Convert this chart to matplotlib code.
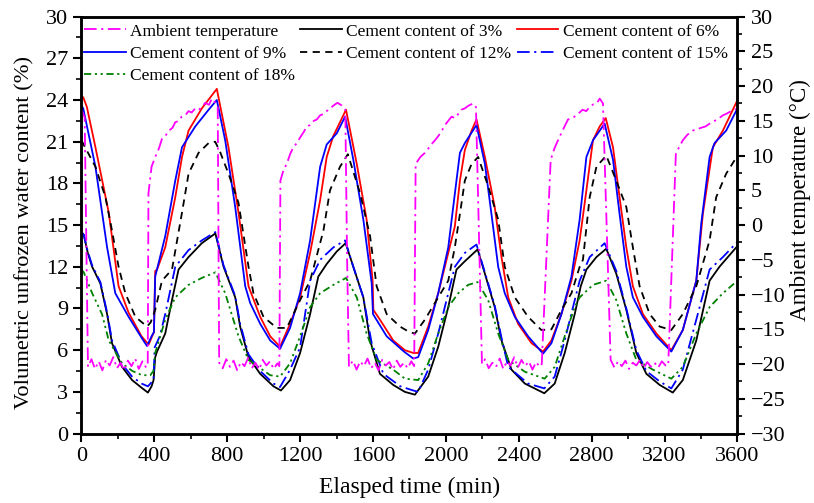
import matplotlib
matplotlib.use("Agg")
import matplotlib.pyplot as plt
from matplotlib.ticker import MultipleLocator

plt.rcParams['font.family'] = ['Liberation Serif', 'DejaVu Serif']

# --- data (time in min) ---
t_c3 = [0, 13, 35, 59, 104, 141, 168, 223, 278, 330, 365, 385, 396, 405, 415, 460, 497, 533, 588, 661, 735,
        780, 844, 871, 917, 981, 1054, 1095, 1145, 1200, 1255, 1300, 1346, 1401, 1450, 1492, 1547, 1584, 1638,
        1711, 1775, 1830, 1903, 1958, 2013, 2058, 2104, 2174, 2214, 2268, 2305, 2360, 2433, 2540, 2597, 2652,
        2707, 2740, 2771, 2826, 2880, 2935, 2990, 3045, 3100, 3173, 3245, 3300, 3374, 3447, 3501, 3600]
v_c3 = [14.5, 14.3, 13.0, 12.0, 10.8, 8.6, 6.5, 4.8, 3.85, 3.3, 2.95, 3.4, 3.85, 5.5, 5.9, 7.2, 9.6, 11.8, 12.7, 13.7, 14.4,
        12.0, 9.8, 7.7, 5.5, 4.3, 3.4, 3.1, 3.85, 5.8, 8.6, 11.3, 12.2, 13.1, 13.7, 12.0, 9.8, 6.7, 4.3,
        3.5, 3.0, 2.8, 4.1, 6.25, 9.1, 11.8, 12.4, 13.25, 11.5, 9.1, 6.7, 4.6, 3.6, 2.9, 3.6, 5.8,
        8.6, 10.6, 11.8, 12.7, 13.3, 11.5, 8.9, 5.8, 4.3, 3.5, 2.95, 3.85, 6.7, 11.0, 12.0, 13.5]

t_c6 = [0, 10, 30, 77, 150, 204, 259, 330, 369, 385, 398, 405, 415, 460, 515, 552, 588, 661, 743, 807, 862,
        917, 981, 1036, 1090, 1145, 1200, 1255, 1310, 1346, 1382, 1452, 1511, 1565, 1598, 1602, 1638, 1711,
        1775, 1821, 1848, 1903, 1958, 2013, 2049, 2077, 2104, 2141, 2168, 2214, 2268, 2305, 2342, 2396,
        2470, 2533, 2579, 2634, 2689, 2734, 2771, 2807, 2844, 2877, 2917, 2953, 2990, 3026, 3081, 3155,
        3237, 3300, 3374, 3410, 3465, 3520, 3600]
v_c6 = [24.0, 24.2, 23.5, 20.6, 15.9, 10.6, 8.7, 7.0, 6.4, 6.9, 7.3, 11.7, 11.8, 13.4, 17.0, 19.9, 21.8, 23.4, 24.8, 20.6, 15.9,
        10.6, 8.4, 7.0, 6.25, 7.9, 9.8, 13.0, 16.8, 19.9, 21.4, 23.3, 19.4, 15.4, 11.0, 8.9, 8.2, 6.7,
        6.0, 5.8, 5.8, 7.7, 10.1, 13.0, 14.9, 18.2, 20.4, 21.8, 22.6, 19.9, 16.3, 12.7, 9.8, 7.9,
        6.5, 5.9, 6.7, 8.6, 11.0, 13.9, 17.5, 21.1, 22.1, 22.7, 20.6, 17.0, 13.4, 10.6, 8.6, 7.2,
        6.0, 7.45, 11.0, 15.8, 20.6, 21.8, 24.0]

t_c9 = [0, 10, 77, 141, 186, 259, 330, 360, 385, 398, 405, 460, 515, 552, 625, 698, 743, 789, 844, 899, 926,
        981, 1036, 1090, 1145, 1200, 1255, 1310, 1346, 1401, 1447, 1492, 1547, 1593, 1600, 1675, 1770, 1821,
        1848, 1903, 1958, 2013, 2058, 2077, 2104, 2168, 2214, 2250, 2287, 2323, 2378, 2451, 2533, 2579,
        2634, 2689, 2734, 2771, 2807, 2871, 2917, 2953, 2990, 3026, 3081, 3155, 3237, 3300, 3374, 3401,
        3447, 3474, 3538, 3600]
v_c9 = [23.6, 23.4, 19.2, 13.4, 10.1, 8.4, 6.9, 6.3, 7.0, 7.3, 11.3, 14.2, 18.2, 20.6, 22.1, 23.3, 24.0, 21.1, 16.3, 10.6, 9.4,
        7.9, 6.7, 6.1, 7.6, 10.1, 13.9, 19.2, 20.8, 21.6, 22.8, 19.7, 15.4, 10.8, 8.6, 7.0, 5.9, 5.4,
        5.5, 7.45, 10.1, 13.4, 18.2, 20.2, 20.9, 22.2, 19.4, 15.8, 12.0, 10.1, 8.4, 7.0, 5.75, 6.5,
        8.6, 11.3, 15.4, 19.9, 21.1, 22.3, 19.7, 15.8, 12.0, 9.8, 8.4, 7.0, 5.9, 7.45, 11.0, 15.1,
        19.9, 20.9, 21.8, 23.4]

t_c12 = [0, 20, 77, 132, 168, 204, 241, 296, 360, 380, 405, 442, 497, 552, 588, 643, 698, 734, 760, 807, 862,
         917, 944, 999, 1072, 1127, 1200, 1255, 1328, 1364, 1419, 1462, 1529, 1584, 1620, 1675, 1748, 1800,
         1830, 1885, 1958, 2013, 2049, 2077, 2104, 2141, 2177, 2232, 2287, 2323, 2378, 2451, 2524, 2579,
         2634, 2689, 2734, 2752, 2789, 2826, 2880, 2935, 2990, 3026, 3063, 3118, 3173, 3237, 3300, 3374,
         3447, 3483, 3538, 3600]
v_c12 = [21.1, 20.6, 19.2, 17.0, 14.6, 12.0, 10.1, 8.4, 7.7, 8.0, 8.9, 11.0, 11.8, 15.9, 18.7, 20.2, 20.9, 21.0, 20.3, 18.7, 16.6,
         12.0, 10.1, 8.4, 7.6, 7.6, 9.6, 11.0, 14.6, 17.5, 19.2, 20.1, 17.3, 14.2, 10.6, 8.6, 7.7, 7.3,
         7.2, 8.2, 9.8, 11.0, 13.4, 15.8, 18.2, 19.4, 19.9, 17.8, 15.4, 12.0, 9.8, 8.4, 7.45, 7.5,
         8.9, 10.1, 12.0, 12.5, 17.0, 19.2, 20.0, 18.2, 16.3, 13.4, 10.6, 8.6, 7.7, 7.45, 8.6, 10.6,
         13.9, 17.0, 18.7, 20.0]

t_c15 = [0, 13, 35, 59, 104, 141, 168, 223, 278, 330, 365, 396, 402, 430, 460, 515, 588, 661, 735, 780, 844,
         871, 917, 981, 1054, 1090, 1145, 1200, 1255, 1310, 1383, 1447, 1492, 1547, 1593, 1657, 1750, 1821,
         1848, 1903, 1958, 2013, 2049, 2104, 2168, 2214, 2268, 2305, 2342, 2451, 2540, 2597, 2652, 2707,
         2734, 2789, 2871, 2935, 2990, 3045, 3100, 3173, 3237, 3300, 3374, 3447, 3520, 3600]
v_c15 = [14.5, 14.3, 13.1, 12.1, 10.9, 8.7, 6.7, 5.0, 4.1, 3.6, 3.4, 3.85, 6.2, 7.0, 8.6, 12.0, 13.2, 13.9, 14.5, 12.1, 9.9,
         7.9, 5.7, 4.5, 3.6, 3.35, 4.6, 6.2, 11.0, 12.5, 13.4, 13.9, 12.0, 9.8, 6.5, 4.3, 3.4, 3.1,
         3.0, 4.6, 7.2, 10.1, 12.0, 13.0, 13.6, 11.6, 9.2, 6.9, 4.8, 3.6, 3.25, 4.1, 6.7, 9.6,
         11.0, 12.7, 13.7, 11.7, 9.0, 6.0, 4.5, 3.75, 3.25, 4.6, 8.2, 11.8, 12.7, 13.8]

t_c18 = [0, 13, 59, 113, 150, 223, 280, 333, 378, 395, 405, 460, 515, 588, 661, 735, 789, 862, 917, 944, 1036,
         1090, 1145, 1200, 1255, 1310, 1383, 1452, 1511, 1565, 1620, 1711, 1775, 1848, 1903, 1958, 2013,
         2068, 2122, 2174, 2232, 2287, 2342, 2433, 2542, 2597, 2652, 2707, 2734, 2807, 2880, 2935, 2990,
         3045, 3136, 3237, 3300, 3374, 3447, 3520, 3600]
v_c18 = [11.8, 11.6, 10.1, 8.6, 6.7, 5.05, 4.5, 4.2, 4.2, 4.5, 5.8, 8.2, 9.8, 10.7, 11.2, 11.6, 10.1, 7.0, 5.3, 5.05, 4.2,
         4.1, 5.05, 7.0, 9.1, 10.1, 10.7, 11.2, 9.8, 7.2, 5.3, 4.6, 3.95, 3.85, 5.05, 7.2, 9.1,
         10.1, 10.7, 10.9, 9.6, 7.2, 5.3, 4.45, 3.95, 4.8, 7.0, 9.1, 9.8, 10.7, 11.0, 9.6, 7.2,
         5.3, 4.6, 3.95, 4.8, 7.2, 9.1, 10.1, 11.0]

# ambient temperature (°C), right axis
t_amb = [0, 18, 36, 55, 75, 95, 115, 135, 155, 175, 195, 215, 235, 255, 275, 295, 315, 335, 355, 364,
         368, 385, 405, 425, 442, 460, 480, 500, 515, 535, 550, 570, 588, 605, 625, 645, 661, 680, 700, 716,
         735, 748, 756, 775, 795, 815, 835, 855, 875, 895, 915, 935, 955, 975, 995, 1015, 1035, 1055, 1075,
         1086, 1092, 1110, 1127, 1145, 1163, 1182, 1200, 1220, 1237, 1255, 1275, 1292, 1310, 1330, 1346,
         1365, 1383, 1405, 1429, 1448, 1458, 1468, 1490, 1510, 1530, 1550, 1570, 1590, 1610, 1630, 1650,
         1670, 1690, 1710, 1730, 1750, 1770, 1790, 1810, 1826, 1834, 1860, 1885, 1903, 1920, 1940, 1958,
         1978, 1995, 2013, 2031, 2050, 2068, 2085, 2104, 2125, 2150, 2165, 2180, 2198, 2215, 2235, 2255,
         2275, 2295, 2315, 2335, 2355, 2375, 2395, 2415, 2435, 2455, 2475, 2495, 2515, 2526, 2575, 2595,
         2615, 2640, 2670, 2695, 2725, 2750, 2770, 2789, 2810, 2830, 2844, 2862, 2904, 2925, 2945, 2965,
         2985, 3005, 3025, 3045, 3065, 3085, 3105, 3125, 3145, 3165, 3185, 3205, 3220, 3262, 3280, 3300,
         3325, 3355, 3380, 3400, 3425, 3447, 3475, 3500, 3520, 3538, 3565, 3585, 3600]
T_amb = [16.6, 15.5, -20.4, -19.3, -20.7, -19.6, -20.9, -19.4, -20.2, -19.0, -20.6, -19.8, -20.9, -19.5, -20.3, -19.2, -20.7, -19.6, -20.5, -20.0,
         4.6, 8.4, 9.8, 11.0, 12.4, 12.8, 13.6, 14.0, 14.8, 15.0, 15.6, 15.8, 16.4, 16.2, 16.8, 16.6, 17.0, 17.6, 17.3, 18.2,
         17.6, 17.2, -19.8, -20.6, -19.3, -20.4, -19.5, -20.9, -19.7, -20.3, -19.1, -20.6, -19.8, -20.8, -19.4, -20.2, -19.6, -20.7, -19.9,
         -20.3, 6.4, 8.0, 8.8, 10.2, 11.2, 11.8, 12.6, 13.4, 14.2, 14.4, 15.0, 15.2, 15.8, 16.0, 16.4,
         16.8, 17.2, 17.6, 17.2, 16.6, -5.0, -20.4, -19.5, -20.8, -19.6, -20.3, -19.2, -20.6, -19.8, -20.9, -19.4,
         -20.2, -19.7, -20.8, -19.5, -20.4, -19.8, -20.6, -19.6, -20.3, 8.8, 9.8, 10.4, 11.0, 11.6, 12.2, 12.8,
         13.6, 14.4, 15.0, 15.6, 15.4, 16.0, 16.6, 16.8, 17.2, 17.5, 17.0, 0.0, -20.0, -19.3, -20.6, -19.8,
         -20.4, -19.2, -20.7, -19.6, -20.2, -19.0, -20.5, -19.4, -20.3, -19.6, -20.8, -19.7, -20.4, -20.0, 9.4, 11.0,
         12.2, 13.6, 15.2, 15.4, 16.0, 16.6, 16.4, 17.0, 17.4, 17.6, 18.2, 17.5, -19.4, -20.5, -19.6, -20.3,
         -19.5, -20.7, -19.8, -20.2, -19.4, -20.6, -19.7, -20.4, -19.8, -20.5, -19.6, -20.2, -20.2, 10.4, 11.2, 12.2,
         13.0, 13.6, 13.8, 14.0, 14.2, 14.6, 15.0, 15.4, 15.8, 16.0, 16.4, 16.6, 16.8]

fig = plt.figure(figsize=(8.14, 5.03), dpi=100)
ax = fig.add_axes([0.1, 0.138, 0.806, 0.829])
ax2 = ax.twinx()

lw = 1.3
amb, = ax2.plot(t_amb, T_amb, color='#FF00FF', lw=lw, dashes=(7, 2.5, 1.2, 2.5), label='Ambient temperature')
l3, = ax.plot(t_c3, v_c3, color='black', lw=lw, label='Cement content of 3%')
l6, = ax.plot(t_c6, v_c6, color='#FF0000', lw=lw, label='Cement content of 6%')
l9, = ax.plot(t_c9, v_c9, color='#0000FF', lw=lw, label='Cement content of 9%')
l12, = ax.plot(t_c12, v_c12, color='black', lw=lw, dashes=(4, 3), label='Cement content of 12%')
l15, = ax.plot(t_c15, v_c15, color='#0000FF', lw=lw, dashes=(7, 2.5, 1.2, 2.5), label='Cement content of 15%')
l18, = ax.plot(t_c18, v_c18, color='#008000', lw=lw, dashes=(4, 2, 1.2, 2, 1.2, 2), label='Cement content of 18%')

ax.set_xlim(0, 3600)
ax.set_ylim(0, 30)
ax2.set_ylim(-30, 30)

ax.xaxis.set_major_locator(MultipleLocator(400))
ax.xaxis.set_minor_locator(MultipleLocator(200))
ax.yaxis.set_major_locator(MultipleLocator(3))
ax.yaxis.set_minor_locator(MultipleLocator(1.5))
ax2.yaxis.set_major_locator(MultipleLocator(5))
ax2.yaxis.set_minor_locator(MultipleLocator(2.5))

for a in (ax, ax2):
    a.tick_params(which='major', direction='out', length=6, width=1.5, labelsize=16)
    a.tick_params(which='minor', direction='out', length=3.5, width=1.2)
    for s in a.spines.values():
        s.set_linewidth(1.8)

ax.set_xlabel('Elasped time (min)', fontsize=17, labelpad=8)
ax.set_ylabel('Volumetric unfrozen water content (%)', fontsize=16.2)
ax.yaxis.set_label_coords(-0.071, 0.483)
ax2.set_ylabel('Ambient temperature (°C)', fontsize=16.6)
ax2.yaxis.set_label_coords(1.079, 0.56)

handles = [amb, l9, l18, l3, l12, l6, l15]
ax2.legend(handles, [h.get_label() for h in handles], ncol=3, loc='upper left',
           bbox_to_anchor=(0.0, 0.99), frameon=False, fontsize=12.5,
           handlelength=2.4, handletextpad=0.25, columnspacing=0.3, labelspacing=0.35,
           borderaxespad=0.0, borderpad=0.15)

fig.savefig('out.png', dpi=100)
